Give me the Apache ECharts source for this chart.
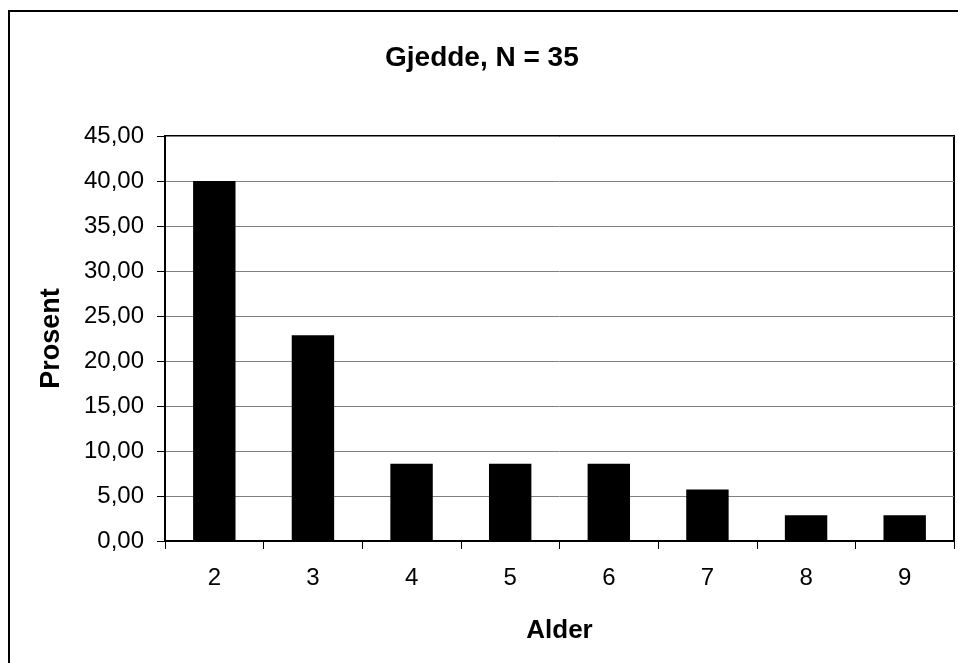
<!DOCTYPE html>
<html><head><meta charset="utf-8">
<script src="https://cdn.jsdelivr.net/npm/echarts@6/dist/echarts.min.js"></script>
<style>html,body{margin:0;padding:0;background:#fff}#c{width:958px;height:663px}</style>
</head><body><div id="c"></div>
<script>
const categories = ['2','3','4','5','6','7','8','9'];
const values = [40.00, 22.86, 8.57, 8.57, 8.57, 5.71, 2.86, 2.86];
const titleText = 'Gjedde, N = 35';
const xName = 'Alder';
const yName = 'Prosent';

const chart = echarts.init(document.getElementById('c'), null, {renderer:'canvas'});
const font = 'Liberation Sans, Arial, sans-serif';
chart.setOption({
  animation: false,
  backgroundColor: '#fff',
  graphic: [{type:'rect', shape:{x:9,y:11,width:970,height:680}, style:{fill:null, stroke:'#000', lineWidth:2}, silent:true}],
  title: {text: titleText, left: 380, top: 39, textStyle:{fontFamily:font, fontSize:28, fontWeight:'bold', color:'#000'}},
  grid: {left:165, top:136, right:4, bottom:122, show:true, borderColor:'#000', borderWidth:2, backgroundColor:'transparent'},
  xAxis: {type:'category', data: categories, name: xName, nameLocation:'middle', nameGap:77,
    nameTextStyle:{fontFamily:font, fontSize:26, fontWeight:'bold', color:'#000'},
    axisLine:{lineStyle:{color:'#000', width:2}},
    axisTick:{show:true, length:8, lineStyle:{color:'#000'}},
    axisLabel:{fontFamily:font, fontSize:24, color:'#000', margin:25}},
  yAxis: {type:'value', min:0, max:45, interval:5, name: yName, nameLocation:'middle', nameGap:100, nameRotate:90,
    nameTextStyle:{fontFamily:font, fontSize:27, fontWeight:'bold', color:'#000'},
    axisLine:{show:true, lineStyle:{color:'#000', width:2}},
    axisTick:{show:true, length:8, lineStyle:{color:'#000'}},
    splitLine:{lineStyle:{color:'#808080', width:1}},
    axisLabel:{fontFamily:font, fontSize:24, color:'#000', margin:21, formatter: v => v.toFixed(2).replace('.', ',')}},
  series: [{type:'bar', data: values, barCategoryGap:'57%', itemStyle:{color:'#000'}}]
});
</script></body></html>
